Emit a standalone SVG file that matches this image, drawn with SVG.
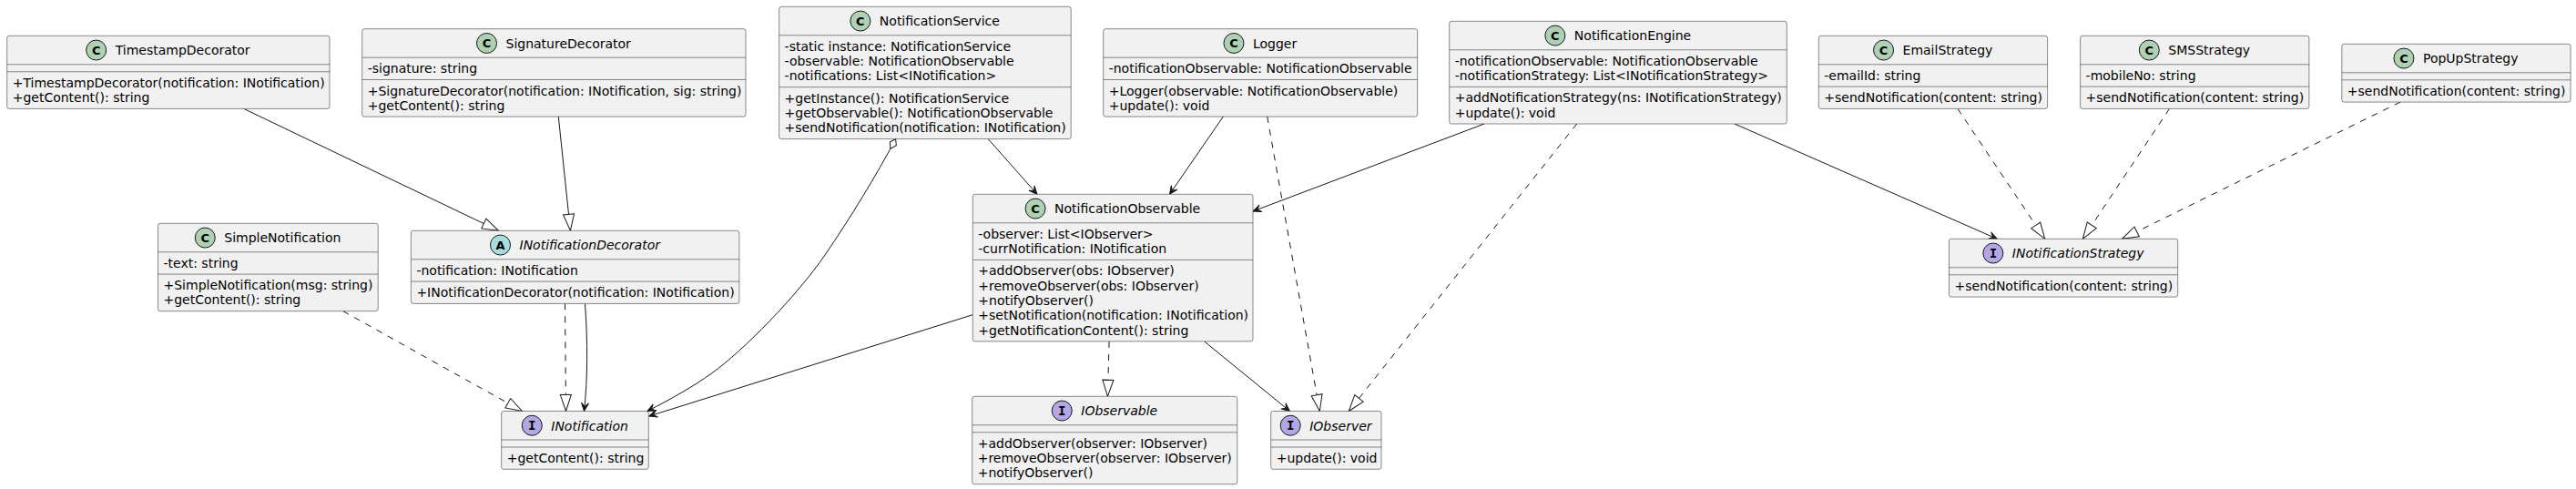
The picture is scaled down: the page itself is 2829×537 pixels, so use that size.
<svg xmlns="http://www.w3.org/2000/svg" width="2829" height="537" viewBox="0 0 2829 537">
<style>
.box{fill:#F1F1F1;stroke:#181818;stroke-width:0.5}
.sep{stroke:#181818;stroke-width:0.5}
.t{font-family:'DejaVu Sans',sans-serif;font-size:14px;fill:#000000}
.i{font-style:italic}
.sC{fill:#ADD1B2;stroke:#181818;stroke-width:1}
.sA{fill:#A9DCDF;stroke:#181818;stroke-width:1}
.sI{fill:#B4A7E5;stroke:#181818;stroke-width:1}
.lt{font-family:'DejaVu Sans',sans-serif;font-size:13px;font-weight:bold;fill:#000000;text-anchor:middle}
.lti{font-family:'DejaVu Sans Mono',monospace;font-size:14px;font-weight:bold;fill:#000000;text-anchor:middle}
.ln{fill:none;stroke:#181818;stroke-width:1}
.d{stroke-dasharray:7,7}
.ext{marker-end:url(#tri)}
.asc{marker-end:url(#arr)}
</style>
<defs>
<marker id="tri" viewBox="-19 -7 20 14" markerWidth="20" markerHeight="14" refX="0" refY="0" markerUnits="userSpaceOnUse" orient="auto">
<path d="M0,0 L-18,-6 L-18,6 Z" fill="#FFFFFF" stroke="#181818" stroke-width="1" stroke-dasharray="none"/>
</marker>
<marker id="arr" viewBox="-10 -5 11 10" markerWidth="11" markerHeight="10" refX="0" refY="0" markerUnits="userSpaceOnUse" orient="auto">
<path d="M0,0 L-9,-4 L-5,0 L-9,4 Z" fill="#181818" stroke="#181818" stroke-width="1" stroke-dasharray="none"/>
</marker>
<marker id="dia" viewBox="-1 -5 14 10" markerWidth="14" markerHeight="10" refX="0" refY="0" markerUnits="userSpaceOnUse" orient="auto">
<path d="M0,0 L6,-4 L12,0 L6,4 Z" fill="#FFFFFF" stroke="#181818" stroke-width="1"/>
</marker>
</defs>
<rect x="0" y="0" width="2829" height="537" fill="#FFFFFF"/>

<g id="connectors">
<path class="ln ext" d="M267.7,119.4 L547.5,253.3"/>
<path class="ln ext" d="M613.3,128.1 L626.4,253.3"/>
<path class="ln d ext" d="M376.8,341.7 L573.5,451.5"/>
<path class="ln d ext" d="M620.5,333.4 L621.5,451.5"/>
<path class="ln asc" d="M642.5,333.4 C645.5,375 645.5,415 641.5,451.5"/>
<path class="ln asc" marker-start="url(#dia)" d="M983.6,152.6 C962.4,192.6 933.4,240 906,280 C875.1,325 816.5,385 781.5,410 C760.5,425 737.1,438 711,451.5"/>
<path class="ln asc" d="M1085.2,152.6 L1139,213.3"/>
<path class="ln asc" d="M1343.3,128.1 L1284.5,213.3"/>
<path class="ln asc" d="M1630,136 L1376,232"/>
<path class="ln d ext" d="M1391.7,128.1 L1449.3,451.5"/>
<path class="ln d ext" d="M1731.7,136 L1481.3,451.5"/>
<path class="ln d ext" d="M1218.1,374.9 L1216.4,435.3"/>
<path class="ln asc" d="M1322.6,374.9 L1416.4,451.5"/>
<path class="ln asc" d="M1068.3,345.7 L712.8,457"/>
<path class="ln asc" d="M1905,136 L2193.3,262.3"/>
<path class="ln d ext" d="M2150,119.4 L2245.7,262.3"/>
<path class="ln d ext" d="M2382.5,119.4 L2287.3,262.3"/>
<path class="ln d ext" d="M2636,112.1 L2330.5,262.3"/>
</g>

<g id="TimestampDecorator">
<rect class="box" x="7.7" y="39.3" width="354.3" height="80.1" rx="2.5"/>
<circle class="sC" cx="105.65" cy="55.05" r="11"/>
<text class="lt" x="105.65" y="59.8">C</text>
<text class="t" x="126.65" y="60.3">TimestampDecorator</text>
<line class="sep" x1="7.7" y1="70.8" x2="362" y2="70.8"/>
<line class="sep" x1="7.7" y1="78.8" x2="362" y2="78.8"/>
<text class="t" x="13.7" y="95.8">+TimestampDecorator(notification: INotification)</text>
<text class="t" x="13.7" y="112.1">+getContent(): string</text>
</g>

<g id="SignatureDecorator">
<rect class="box" x="397.7" y="31.7" width="421.3" height="96.4" rx="2.5"/>
<circle class="sC" cx="534.5" cy="47.45" r="11"/>
<text class="lt" x="534.5" y="52.2">C</text>
<text class="t" x="555.5" y="52.7">SignatureDecorator</text>
<line class="sep" x1="397.7" y1="63.2" x2="819" y2="63.2"/>
<text class="t" x="403.7" y="80.2">-signature: string</text>
<line class="sep" x1="397.7" y1="87.5" x2="819" y2="87.5"/>
<text class="t" x="403.7" y="104.5">+SignatureDecorator(notification: INotification, sig: string)</text>
<text class="t" x="403.7" y="120.8">+getContent(): string</text>
</g>

<g id="NotificationService">
<rect class="box" x="855.6" y="7.3" width="320.6" height="145.3" rx="2.5"/>
<circle class="sC" cx="944.85" cy="23.05" r="11"/>
<text class="lt" x="944.85" y="27.8">C</text>
<text class="t" x="965.85" y="28.3">NotificationService</text>
<line class="sep" x1="855.6" y1="38.8" x2="1176.2" y2="38.8"/>
<text class="t" x="861.6" y="55.8">-static instance: NotificationService</text>
<text class="t" x="861.6" y="72.1">-observable: NotificationObservable</text>
<text class="t" x="861.6" y="88.4">-notifications: List&lt;INotification&gt;</text>
<line class="sep" x1="855.6" y1="95.7" x2="1176.2" y2="95.7"/>
<text class="t" x="861.6" y="112.7">+getInstance(): NotificationService</text>
<text class="t" x="861.6" y="129">+getObservable(): NotificationObservable</text>
<text class="t" x="861.6" y="145.3">+sendNotification(notification: INotification)</text>
</g>

<g id="Logger">
<rect class="box" x="1211.7" y="31.7" width="345" height="96.4" rx="2.5"/>
<circle class="sC" cx="1354.95" cy="47.45" r="11"/>
<text class="lt" x="1354.95" y="52.2">C</text>
<text class="t" x="1375.95" y="52.7">Logger</text>
<line class="sep" x1="1211.7" y1="63.2" x2="1556.7" y2="63.2"/>
<text class="t" x="1217.7" y="80.2">-notificationObservable: NotificationObservable</text>
<line class="sep" x1="1211.7" y1="87.5" x2="1556.7" y2="87.5"/>
<text class="t" x="1217.7" y="104.5">+Logger(observable: NotificationObservable)</text>
<text class="t" x="1217.7" y="120.8">+update(): void</text>
</g>

<g id="NotificationEngine">
<rect class="box" x="1591.7" y="23.3" width="370.6" height="112.7" rx="2.5"/>
<circle class="sC" cx="1707.85" cy="39.05" r="11"/>
<text class="lt" x="1707.85" y="43.8">C</text>
<text class="t" x="1728.85" y="44.3">NotificationEngine</text>
<line class="sep" x1="1591.7" y1="54.8" x2="1962.3" y2="54.8"/>
<text class="t" x="1597.7" y="71.8">-notificationObservable: NotificationObservable</text>
<text class="t" x="1597.7" y="88.1">-notificationStrategy: List&lt;INotificationStrategy&gt;</text>
<line class="sep" x1="1591.7" y1="95.4" x2="1962.3" y2="95.4"/>
<text class="t" x="1597.7" y="112.4">+addNotificationStrategy(ns: INotificationStrategy)</text>
<text class="t" x="1597.7" y="128.7">+update(): void</text>
</g>

<g id="EmailStrategy">
<rect class="box" x="1997.3" y="39.3" width="251.3" height="80.1" rx="2.5"/>
<circle class="sC" cx="2068.55" cy="55.05" r="11"/>
<text class="lt" x="2068.55" y="59.8">C</text>
<text class="t" x="2089.55" y="60.3">EmailStrategy</text>
<line class="sep" x1="1997.3" y1="70.8" x2="2248.6" y2="70.8"/>
<text class="t" x="2003.3" y="87.8">-emailId: string</text>
<line class="sep" x1="1997.3" y1="95.1" x2="2248.6" y2="95.1"/>
<text class="t" x="2003.3" y="112.1">+sendNotification(content: string)</text>
</g>

<g id="SMSStrategy">
<rect class="box" x="2284.6" y="39.3" width="251.3" height="80.1" rx="2.5"/>
<circle class="sC" cx="2360.3" cy="55.05" r="11"/>
<text class="lt" x="2360.3" y="59.8">C</text>
<text class="t" x="2381.3" y="60.3">SMSStrategy</text>
<line class="sep" x1="2284.6" y1="70.8" x2="2535.9" y2="70.8"/>
<text class="t" x="2290.6" y="87.8">-mobileNo: string</text>
<line class="sep" x1="2284.6" y1="95.1" x2="2535.9" y2="95.1"/>
<text class="t" x="2290.6" y="112.1">+sendNotification(content: string)</text>
</g>

<g id="PopUpStrategy">
<rect class="box" x="2571.8" y="48.3" width="251.3" height="63.8" rx="2.5"/>
<circle class="sC" cx="2639.95" cy="64.05" r="11"/>
<text class="lt" x="2639.95" y="68.8">C</text>
<text class="t" x="2660.95" y="69.3">PopUpStrategy</text>
<line class="sep" x1="2571.8" y1="79.8" x2="2823.1" y2="79.8"/>
<line class="sep" x1="2571.8" y1="87.8" x2="2823.1" y2="87.8"/>
<text class="t" x="2577.8" y="104.8">+sendNotification(content: string)</text>
</g>

<g id="SimpleNotification">
<rect class="box" x="173.5" y="245.3" width="241.7" height="96.4" rx="2.5"/>
<circle class="sC" cx="225.25" cy="261.05" r="11"/>
<text class="lt" x="225.25" y="265.8">C</text>
<text class="t" x="246.25" y="266.3">SimpleNotification</text>
<line class="sep" x1="173.5" y1="276.8" x2="415.2" y2="276.8"/>
<text class="t" x="179.5" y="293.8">-text: string</text>
<line class="sep" x1="173.5" y1="301.1" x2="415.2" y2="301.1"/>
<text class="t" x="179.5" y="318.1">+SimpleNotification(msg: string)</text>
<text class="t" x="179.5" y="334.4">+getContent(): string</text>
</g>

<g id="INotificationDecorator">
<rect class="box" x="451.4" y="253.3" width="360.5" height="80.1" rx="2.5"/>
<circle class="sA" cx="549.5" cy="269.05" r="11"/>
<text class="lt" x="549.5" y="273.8">A</text>
<text class="t i" x="570.5" y="274.3">INotificationDecorator</text>
<line class="sep" x1="451.4" y1="284.8" x2="811.9" y2="284.8"/>
<text class="t" x="457.4" y="301.8">-notification: INotification</text>
<line class="sep" x1="451.4" y1="309.1" x2="811.9" y2="309.1"/>
<text class="t" x="457.4" y="326.1">+INotificationDecorator(notification: INotification)</text>
</g>

<g id="INotification">
<rect class="box" x="550.7" y="451.5" width="161.6" height="63.8" rx="2.5"/>
<circle class="sI" cx="584.25" cy="467.25" r="11"/>
<text class="lti" x="584.25" y="472.2">I</text>
<text class="t i" x="605.25" y="472.5">INotification</text>
<line class="sep" x1="550.7" y1="483" x2="712.3" y2="483"/>
<line class="sep" x1="550.7" y1="491" x2="712.3" y2="491"/>
<text class="t" x="556.7" y="508">+getContent(): string</text>
</g>

<g id="NotificationObservable">
<rect class="box" x="1068.3" y="213.3" width="307.7" height="161.6" rx="2.5"/>
<circle class="sC" cx="1137.05" cy="229.05" r="11"/>
<text class="lt" x="1137.05" y="233.8">C</text>
<text class="t" x="1158.05" y="234.3">NotificationObservable</text>
<line class="sep" x1="1068.3" y1="244.8" x2="1376" y2="244.8"/>
<text class="t" x="1074.3" y="261.8">-observer: List&lt;IObserver&gt;</text>
<text class="t" x="1074.3" y="278.1">-currNotification: INotification</text>
<line class="sep" x1="1068.3" y1="285.4" x2="1376" y2="285.4"/>
<text class="t" x="1074.3" y="302.4">+addObserver(obs: IObserver)</text>
<text class="t" x="1074.3" y="318.7">+removeObserver(obs: IObserver)</text>
<text class="t" x="1074.3" y="335">+notifyObserver()</text>
<text class="t" x="1074.3" y="351.3">+setNotification(notification: INotification)</text>
<text class="t" x="1074.3" y="367.6">+getNotificationContent(): string</text>
</g>

<g id="IObservable">
<rect class="box" x="1067.7" y="435.3" width="291.1" height="96.4" rx="2.5"/>
<circle class="sI" cx="1166.25" cy="451.05" r="11"/>
<text class="lti" x="1166.25" y="456">I</text>
<text class="t i" x="1187.25" y="456.3">IObservable</text>
<line class="sep" x1="1067.7" y1="466.8" x2="1358.8" y2="466.8"/>
<line class="sep" x1="1067.7" y1="474.8" x2="1358.8" y2="474.8"/>
<text class="t" x="1073.7" y="491.8">+addObserver(observer: IObserver)</text>
<text class="t" x="1073.7" y="508.1">+removeObserver(observer: IObserver)</text>
<text class="t" x="1073.7" y="524.4">+notifyObserver()</text>
</g>

<g id="IObserver">
<rect class="box" x="1395.7" y="451.5" width="121.3" height="63.8" rx="2.5"/>
<circle class="sI" cx="1417.2" cy="467.25" r="11"/>
<text class="lti" x="1417.2" y="472.2">I</text>
<text class="t i" x="1438.2" y="472.5">IObserver</text>
<line class="sep" x1="1395.7" y1="483" x2="1517" y2="483"/>
<line class="sep" x1="1395.7" y1="491" x2="1517" y2="491"/>
<text class="t" x="1401.7" y="508">+update(): void</text>
</g>

<g id="INotificationStrategy">
<rect class="box" x="2140.5" y="262.3" width="251.2" height="63.8" rx="2.5"/>
<circle class="sI" cx="2188.85" cy="278.05" r="11"/>
<text class="lti" x="2188.85" y="283">I</text>
<text class="t i" x="2209.85" y="283.3">INotificationStrategy</text>
<line class="sep" x1="2140.5" y1="293.8" x2="2391.7" y2="293.8"/>
<line class="sep" x1="2140.5" y1="301.8" x2="2391.7" y2="301.8"/>
<text class="t" x="2146.5" y="318.8">+sendNotification(content: string)</text>
</g>
</svg>
